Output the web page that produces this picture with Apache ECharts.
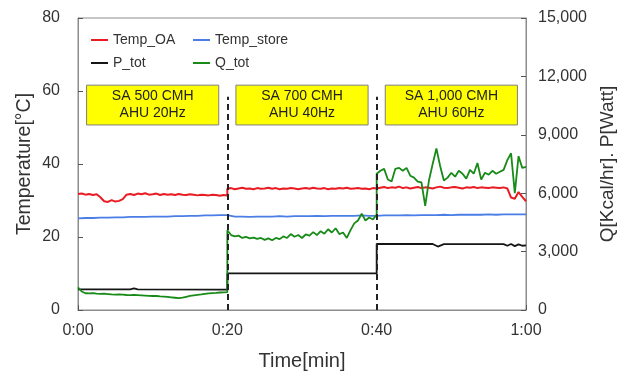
<!DOCTYPE html>
<html>
<head>
<meta charset="utf-8">
<script src="https://cdn.jsdelivr.net/npm/echarts@6.0.0/dist/echarts.min.js"></script>
<style>
html,body{margin:0;padding:0;background:#fff;}
#chart{width:630px;height:372px;}
</style>
</head>
<body>
<div id="chart"></div>
<script>
// ---- data (time in minutes) ----
const seriesNames = ['Temp_OA', 'Temp_store', 'P_tot', 'Q_tot'];
const phaseBounds = [0, 20, 40, 60];
const phaseLabels = ['SA 500 CMH\nAHU 20Hz', 'SA 700 CMH\nAHU 40Hz', 'SA 1,000 CMH\nAHU 60Hz'];
const xTickLabels = ['0:00', '0:20', '0:40', '1:00'];
const sampleStep = 0.5; // minutes between samples of Temp_OA and Q_tot

// Temp_OA [°C], each phase sampled every 0.5 min from phase start to end
const oaPhase1 = [31.8, 31.9, 31.6, 31.8, 31.5, 31.7, 30.9, 29.8, 29.6, 30.1,
  29.7, 29.9, 30.4, 31.6, 31.8, 31.5, 31.9, 31.7, 32.0, 31.6,
  31.7, 31.9, 31.5, 31.8, 31.6, 31.7, 31.5, 31.8, 31.6, 31.5,
  31.7, 31.6, 31.4, 31.6, 31.5, 31.4, 31.6, 31.5, 31.3, 31.5, 31.4];
const oaPhase2 = [33.2, 33.4, 33.1, 33.3, 33.5, 33.2, 33.3, 33.1, 33.4, 33.2,
  33.3, 33.5, 33.2, 33.4, 33.1, 33.3, 33.2, 33.4, 33.3, 33.1,
  33.3, 33.4, 33.2, 33.5, 33.3, 33.2, 33.4, 33.1, 33.3, 33.2,
  33.4, 33.3, 33.5, 33.2, 33.3, 33.4, 33.2, 33.3, 33.1, 33.4, 33.3];
const oaPhase3 = [33.4, 33.5, 33.7, 33.4, 33.6, 33.5, 33.8, 33.4, 33.6, 33.3,
  33.5, 33.7, 33.4, 33.6, 33.5, 33.3, 33.6, 33.8, 33.5, 33.4,
  33.6, 33.7, 33.5, 33.3, 33.6, 33.5, 33.7, 33.4, 33.6, 33.5,
  33.4, 33.6, 33.5, 33.4, 33.6, 33.3, 30.8, 30.5, 32.3, 31.0, 29.8];

// Q_tot [Kcal/hr], same sampling
const qPhase1 = [1160, 950, 860, 850, 870, 840, 830, 840, 820, 800,
  790, 800, 790, 770, 760, 770, 760, 750, 740, 730,
  720, 720, 700, 690, 670, 650, 630, 610, 640, 680,
  720, 750, 780, 800, 830, 850, 870, 880, 900, 910, 920];
const qPhase2 = [4100, 3850, 3780, 3820, 3700, 3760, 3680, 3720, 3650, 3700,
  3600, 3680, 3580, 3700, 3640, 3780, 3700, 3900, 3760, 3850,
  3700, 3880, 3820, 4000, 3850, 4050, 3920, 4150, 3980, 4200,
  3900, 3980, 3700, 4100, 4450, 4600, 4950, 4600, 4750, 4650, 4900];
const qPhase3 = [7000, 7150, 7250, 6700, 6600, 7250, 7300, 7150, 7300, 6900,
  6800, 6600, 6550, 5350, 6650, 7500, 8300, 7400, 6650, 6800,
  7050, 6850, 7150, 7000, 6750, 7200, 7000, 7550, 6700, 7050,
  6950, 7150, 7000, 7100, 7200, 7700, 8050, 6000, 7900, 7300, 7350];

// Temp_store [°C], sampled every minute
const storeTime = [0,1,2,3,4,5,6,7,8,9,10,11,12,13,14,15,16,17,18,19,20,
  21,22,23,24,25,26,27,28,29,30,31,32,33,34,35,36,37,38,39,40,
  41,42,43,44,45,46,47,48,49,50,51,52,53,54,55,56,57,58,59,60];
const storeVals = [25.1,25.2,25.2,25.3,25.3,25.4,25.4,25.5,25.5,25.5,25.6,25.6,25.6,25.7,25.7,25.8,25.8,25.9,25.9,26.0,26.0,
  25.6,25.6,25.5,25.6,25.6,25.6,25.7,25.6,25.7,25.7,25.7,25.8,25.7,25.8,25.8,25.8,25.8,25.9,25.8,25.8,
  25.9,25.9,25.9,26.0,25.9,26.0,26.0,26.0,26.1,26.0,26.1,26.1,26.1,26.1,26.2,26.1,26.2,26.2,26.2,26.2];

// P_tot [Watt]
const pTime = [0, 7, 7.5, 8, 20, 20, 40, 40, 47.5, 48.2, 49, 57, 57.5, 58, 58.5, 59, 59.5, 60];
const pVals = [1060, 1060, 1110, 1060, 1050, 1880, 1880, 3400, 3390, 3260, 3380, 3380, 3300, 3390, 3280, 3370, 3300, 3320];

// ---- build ----
function phased(phases) {
  const out = [];
  phases.forEach((vals, p) => {
    vals.forEach((v, i) => out.push([phaseBounds[p] + i * sampleStep, v]));
  });
  return out;
}
const pair = (ts, vs) => ts.map((t, i) => [t, vs[i]]);

const oaData = phased([oaPhase1, oaPhase2, oaPhase3]);
const qData = phased([qPhase1, qPhase2, qPhase3]);
const storeData = pair(storeTime, storeVals);
const pData = pair(pTime, pVals);

const colors = ['#e81c22', '#4a7ee6', '#151515', '#178a17'];
const FONT = 'Liberation Sans, Arial, sans-serif';

const boxInset = 1.15, boxTop = 61.6, boxBottom = 50.7, dashTop = 58.4;
const boxes = phaseLabels.map((txt, i) => [
  { name: txt, coord: [phaseBounds[i] + boxInset, boxTop] },
  { coord: [phaseBounds[i + 1] - boxInset, boxBottom] }
]);
const dashes = phaseBounds.slice(1, 3).map(t => [{ coord: [t, 0] }, { coord: [t, dashTop] }]);

const legendBase = {
  top: 33, padding: 0, orient: 'vertical', itemWidth: 17, itemHeight: 2, itemGap: 9, icon: 'rect',
  textStyle: { fontSize: 14, color: '#333', fontFamily: FONT }
};

const chart = echarts.init(document.getElementById('chart'), null, { renderer: 'canvas' });
chart.setOption({
  animation: false,
  textStyle: { fontFamily: FONT },
  color: colors,
  grid: { left: 78, right: 104, top: 18, bottom: 62, show: true, borderColor: '#8c8c8c', borderWidth: 1,
    containLabel: false, outerBoundsMode: 'none' },
  legend: [
    Object.assign({}, legendBase, { left: 91, data: [seriesNames[0], seriesNames[2]] }),
    Object.assign({}, legendBase, { left: 193, data: [seriesNames[1], seriesNames[3]] })
  ],
  xAxis: {
    type: 'value', min: 0, max: 60, interval: 20,
    name: 'Time[min]', nameLocation: 'middle', nameGap: 41, nameMoveOverlap: false,
    nameTextStyle: { fontSize: 20, color: '#333' },
    axisLine: { lineStyle: { color: '#8c8c8c' } },
    axisTick: { inside: true, length: 5, lineStyle: { color: '#555' } },
    axisLabel: { fontSize: 16, color: '#333', margin: 13,
      formatter: v => xTickLabels[Math.round(v / 20)] },
    splitLine: { show: false }
  },
  yAxis: [{
    type: 'value', min: 0, max: 80, interval: 20,
    name: 'Temperature[°C]', nameLocation: 'middle', nameGap: 43, nameRotate: 90, nameMoveOverlap: false,
    nameTextStyle: { fontSize: 19.5, color: '#333' },
    axisLine: { show: true, lineStyle: { color: '#8c8c8c' } },
    axisTick: { show: true, inside: true, length: 5, lineStyle: { color: '#555' } },
    axisLabel: { fontSize: 16, color: '#333', margin: 18 },
    splitLine: { show: false }
  }, {
    type: 'value', min: 0, max: 15000, interval: 3000, position: 'right',
    name: 'Q[Kcal/hr]. P[Watt]', nameLocation: 'middle', nameGap: 72, nameRotate: 90, nameMoveOverlap: false,
    nameTextStyle: { fontSize: 19, color: '#333' },
    axisLine: { show: true, lineStyle: { color: '#8c8c8c' } },
    axisTick: { show: true, inside: true, length: 5, lineStyle: { color: '#555' } },
    axisLabel: { fontSize: 16, color: '#333', margin: 12,
      formatter: v => v.toLocaleString('en-US') },
    splitLine: { show: false }
  }],
  series: [
    {
      name: seriesNames[0], type: 'line', yAxisIndex: 0, data: oaData, showSymbol: false,
      lineStyle: { width: 2 },
      markArea: {
        silent: true,
        itemStyle: { color: '#ffff00', borderColor: '#7f7f7f', borderWidth: 1, opacity: 1 },
        label: { show: true, position: 'inside', color: '#222', fontSize: 14, lineHeight: 17, fontFamily: FONT },
        data: boxes
      },
      markLine: {
        silent: true, symbol: 'none',
        lineStyle: { color: '#222', type: [6, 4], width: 2 },
        label: { show: false },
        data: dashes
      }
    },
    { name: seriesNames[1], type: 'line', yAxisIndex: 0, data: storeData, showSymbol: false, lineStyle: { width: 1.8 } },
    { name: seriesNames[2], type: 'line', yAxisIndex: 1, data: pData, showSymbol: false, lineStyle: { width: 1.8 } },
    { name: seriesNames[3], type: 'line', yAxisIndex: 1, data: qData, showSymbol: false, lineStyle: { width: 1.8 } }
  ]
});
</script>
</body>
</html>
